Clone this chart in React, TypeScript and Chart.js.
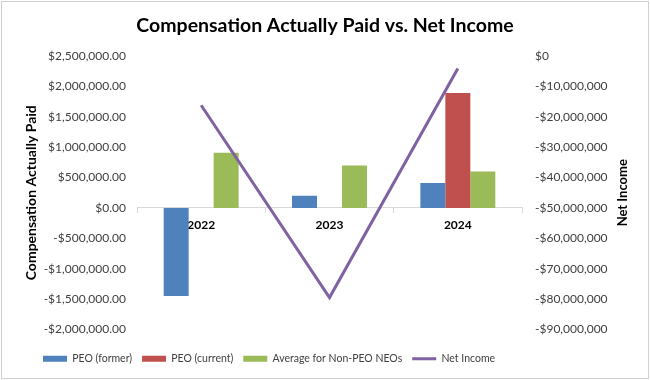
import React, { useEffect, useRef } from "react";
import { Chart, registerables } from "chart.js";

Chart.register(...registerables);

const categories = ["2022", "2023", "2024"];
const peoFormer = [-1450000, 200000, 410000];
const peoCurrent: (number | null)[] = [null, null, 1890000];
const nonPeoAvg = [910000, 700000, 600000];
const netIncome = [-16200000, -79500000, -4100000];

const leftTitle = "Compensation Actually Paid";
const rightTitle = "Net Income";
const chartTitle = "Compensation Actually Paid vs. Net Income";

const FONT = "Lato";

const fmtLeft = (v: number) => {
  const s = "$" + Math.abs(v).toLocaleString("en-US", { minimumFractionDigits: 2, maximumFractionDigits: 2 });
  return v < 0 ? "-" + s : s;
};
const fmtRight = (v: number) => {
  const s = "$" + Math.abs(v).toLocaleString("en-US", { maximumFractionDigits: 0 });
  return v < 0 ? "-" + s : s;
};

const extrasPlugin = {
  id: "extras",
  afterDraw(chart: any) {
    const ctx = chart.ctx;
    const area = chart.chartArea;
    const cy = (area.top + area.bottom) / 2;
    ctx.save();
    ctx.fillStyle = "#000000";
    ctx.font = `bold 14px ${FONT}`;
    ctx.textAlign = "center";
    ctx.textBaseline = "middle";
    ctx.translate(31, cy);
    ctx.rotate(-Math.PI / 2);
    ctx.fillText(leftTitle, 0, 0);
    ctx.restore();
    ctx.save();
    ctx.fillStyle = "#000000";
    ctx.font = `bold 13px ${FONT}`;
    ctx.textAlign = "center";
    ctx.textBaseline = "middle";
    ctx.translate(623, cy);
    ctx.rotate(-Math.PI / 2);
    ctx.fillText(rightTitle, 0, 0);
    ctx.restore();
    ctx.save();
    ctx.strokeStyle = "#d0d0d0";
    ctx.lineWidth = 1;
    ctx.strokeRect(1.5, 1.5, chart.width - 3, chart.height - 3);
    ctx.restore();
  },
};

export default function App() {
  const ref = useRef<HTMLCanvasElement>(null);
  useEffect(() => {
    if (!ref.current) return;
    const chart = new Chart(ref.current, {
      type: "bar",
      data: {
        labels: categories,
        datasets: [
          { type: "bar", label: "PEO (former)", data: peoFormer, backgroundColor: "#4f81bd", yAxisID: "y", order: 2 },
          { type: "bar", label: "PEO (current)", data: peoCurrent, backgroundColor: "#c0504d", yAxisID: "y", order: 2 },
          { type: "bar", label: "Average for Non-PEO NEOs", data: nonPeoAvg, backgroundColor: "#9bbb59", yAxisID: "y", order: 2 },
          {
            type: "line",
            label: "Net Income",
            data: netIncome,
            borderColor: "#7f62a1",
            backgroundColor: "#7f62a1",
            borderWidth: 3,
            pointRadius: 0,
            tension: 0,
            yAxisID: "y1",
            order: 1,
          },
        ] as any,
      },
      options: {
        responsive: false,
        animation: false,
        devicePixelRatio: 1,
        datasets: { bar: { barPercentage: 1, categoryPercentage: 0.584 } },
        layout: { padding: { left: 33, right: 33, top: 0, bottom: 6 } },
        plugins: {
          title: {
            display: true,
            text: chartTitle,
            color: "#000000",
            font: { family: FONT, size: 19.5, weight: "bold" },
            padding: { top: 14, bottom: 18.6 },
          },
          legend: {
            position: "bottom",
            align: "start",
            title: { display: true, text: "", padding: 0, font: { size: 14, lineHeight: 1 } },
            labels: {
              usePointStyle: true,
              pointStyleWidth: 24,
              boxHeight: 6,
              padding: 10,
              color: "#404040",
              font: { family: FONT, size: 10.5 },
              generateLabels(chart: any) {
                return chart.data.datasets.map((ds: any, i: number) => ({
                  text: ds.label,
                  fillStyle: ds.backgroundColor,
                  strokeStyle: ds.borderColor || ds.backgroundColor,
                  lineWidth: ds.type === "line" ? 3 : 0,
                  pointStyle: ds.type === "line" ? "line" : "rect",
                  hidden: false,
                  datasetIndex: i,
                  fontColor: "#404040",
                }));
              },
            },
          },
          tooltip: { enabled: false },
        },
        scales: {
          x: {
            type: "category",
            position: { y: 0 } as any,
            grid: { display: true, drawOnChartArea: false, drawTicks: true, tickLength: 5, color: "#d9d9d9", offset: true },
            border: { display: true, color: "#d9d9d9" },
            ticks: { color: "#000000", font: { family: FONT, size: 12, weight: "bold" }, padding: 5 },
          },
          y: {
            position: "left",
            min: -2000000,
            max: 2500000,
            grid: { display: false, drawTicks: false },
            border: { display: false },
            ticks: { stepSize: 500000, padding: 11, color: "#404040", font: { family: FONT, size: 12 }, callback: (v: any) => fmtLeft(Number(v)) },
            afterFit(scale: any) {
              scale.width = 104;
            },
          },
          y1: {
            position: "right",
            min: -90000000,
            max: 0,
            grid: { display: false, drawTicks: false },
            border: { display: false },
            ticks: { stepSize: 10000000, padding: 13, color: "#404040", font: { family: FONT, size: 12 }, callback: (v: any) => fmtRight(Number(v)) },
            afterFit(scale: any) {
              scale.width = 95;
            },
          },
        },
      } as any,
      plugins: [extrasPlugin],
    });
    return () => chart.destroy();
  }, []);
  return (
    <div style={{ position: "absolute", left: 0, top: 0, width: 650, height: 380, background: "#fff" }}>
      <canvas ref={ref} width={650} height={380} />
    </div>
  );
}
